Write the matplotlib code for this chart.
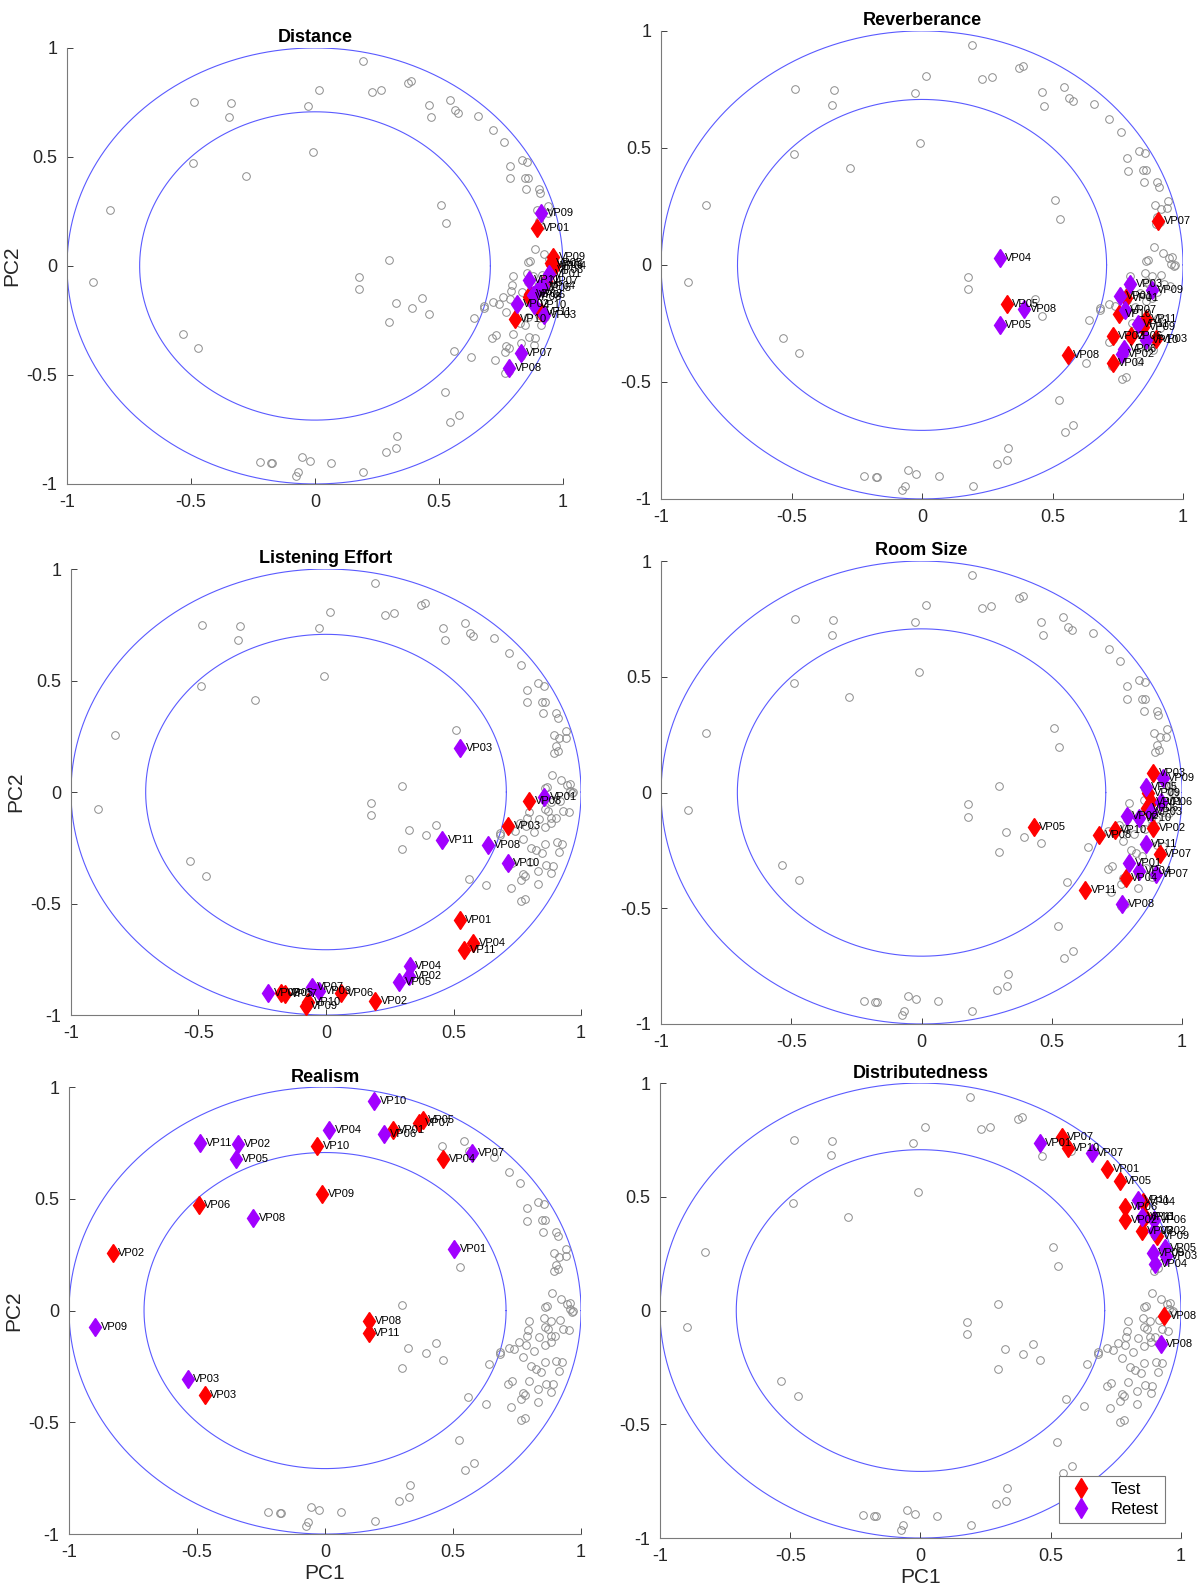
import numpy as np
import matplotlib.pyplot as plt

plt.rcParams['font.family'] = ['Liberation Sans', 'DejaVu Sans']

# background variable loadings (same in every panel)
bg_x = [0.192, 0.373, 0.388, 0.016, 0.231, 0.268, -0.486, -0.339, -0.345, -0.027, 0.544, 0.458,
        0.563, 0.578, 0.467, 0.659,
        0.718, 0.763, 0.833, 0.856, 0.787, 0.788, 0.846, 0.859, 0.852, 0.902, 0.909, 0.941,
        0.894, 0.914, 0.940, 0.902, 0.895, 0.911,
        -0.008, -0.490, -0.277, -0.827, 0.509, 0.527, 0.299, -0.895, 0.177, 0.177, 0.325, 0.393,
        0.432, 0.460, 0.299, 0.640, 0.682, -0.534, -0.470, 0.560, 0.629,
        0.524, 0.546, 0.580, 0.331, 0.327, 0.288, -0.222, -0.177, -0.172, -0.053, -0.022, 0.064,
        -0.067, -0.076, 0.194,
        0.887, 0.922, 0.958, 0.866, 0.858, 0.955, 0.964, 0.855, 0.881, 0.797, 0.917, 0.858,
        0.871, 0.928, 0.794, 0.951, 0.836, 0.881, 0.900, 0.789, 0.759, 0.785, 0.858, 0.883,
        0.717, 0.740, 0.817, 0.683, 0.772, 0.904, 0.927, 0.858, 0.804, 0.825, 0.845, 0.913,
        0.862, 0.889, 0.798, 0.715, 0.730, 0.832, 0.884, 0.772, 0.782, 0.766, 0.830, 0.727,
        0.781, 0.766, 0.945, 0.970]
bg_y = [0.938, 0.840, 0.849, 0.808, 0.796, 0.805, 0.751, 0.746, 0.682, 0.735, 0.759, 0.737,
        0.714, 0.701, 0.681, 0.689,
        0.622, 0.570, 0.487, 0.477, 0.459, 0.402, 0.405, 0.405, 0.353, 0.353, 0.333, 0.275,
        0.256, 0.241, 0.242, 0.206, 0.176, 0.185,
        0.522, 0.474, 0.413, 0.256, 0.278, 0.195, 0.027, -0.074, -0.051, -0.104, -0.169, -0.192,
        -0.147, -0.219, -0.257, -0.237, -0.184, -0.311, -0.377, -0.388, -0.418,
        -0.578, -0.714, -0.683, -0.782, -0.835, -0.852, -0.900, -0.905, -0.905, -0.878, -0.894,
        -0.902, -0.944, -0.963, -0.943,
        0.078, 0.053, 0.034, 0.021, 0.017, 0.005, -0.005, -0.034, -0.046, -0.046, -0.042, -0.074,
        -0.083, -0.083, -0.089, -0.089, -0.119, -0.115, -0.115, -0.115, -0.141, -0.152, -0.156,
        -0.140, -0.166, -0.174, -0.181, -0.193, -0.210, -0.225, -0.232, -0.232, -0.250, -0.262,
        -0.273, -0.270, -0.327, -0.330, -0.313, -0.330, -0.317, -0.352, -0.364, -0.368, -0.376,
        -0.396, -0.411, -0.430, -0.481, -0.489, 0.030, 0.000]

# (participant, PC1, PC2) for test and retest sessions
distance_test = [('VP01', 0.895, 0.175), ('VP09', 0.960, 0.043), ('VP05', 0.950, 0.015),
                 ('VP06', 0.955, 0.005), ('VP04', 0.965, 0.000), ('VP03', 0.955, -0.020),
                 ('VP07', 0.932, -0.069), ('VP02', 0.868, -0.130), ('VP08', 0.863, -0.144),
                 ('VP11', 0.910, -0.213), ('VP10', 0.805, -0.244)]
distance_retest = [('VP09', 0.912, 0.242), ('VP01', 0.944, -0.038), ('VP11', 0.861, -0.066),
                   ('VP04', 0.920, -0.090), ('VP05', 0.903, -0.100), ('VP06', 0.881, -0.132),
                   ('VP02', 0.816, -0.173), ('VP10', 0.884, -0.178), ('VP03', 0.925, -0.225),
                   ('VP07', 0.830, -0.401), ('VP08', 0.784, -0.467)]

reverb_test = [('VP07', 0.906, 0.187), ('VP05', 0.325, -0.167), ('VP08', 0.558, -0.386),
               ('VP04', 0.730, -0.420), ('VP01', 0.782, -0.142), ('VP10', 0.756, -0.208),
               ('VP11', 0.857, -0.229), ('VP09', 0.847, -0.265), ('VP02', 0.730, -0.304),
               ('VP06', 0.799, -0.304), ('VP03', 0.895, -0.316)]
reverb_retest = [('VP04', 0.297, 0.028), ('VP08', 0.392, -0.190), ('VP05', 0.297, -0.255),
                 ('VP03', 0.797, -0.080), ('VP09', 0.880, -0.106), ('VP01', 0.759, -0.131),
                 ('VP07', 0.776, -0.193), ('VP11', 0.827, -0.254), ('VP10', 0.860, -0.320),
                 ('VP06', 0.775, -0.359), ('VP02', 0.768, -0.381)]

effort_test = [('VP08', 0.796, -0.038), ('VP03', 0.715, -0.154), ('VP01', 0.524, -0.574),
               ('VP04', 0.577, -0.679), ('VP11', 0.543, -0.710), ('VP02', 0.193, -0.939),
               ('VP06', 0.059, -0.899), ('VP05', -0.175, -0.902), ('VP07', -0.160, -0.905),
               ('VP10', -0.071, -0.940), ('VP09', -0.079, -0.961)]
effort_retest = [('VP03', 0.527, 0.196), ('VP01', 0.855, -0.020), ('VP11', 0.455, -0.217),
                 ('VP08', 0.635, -0.236), ('VP10', 0.712, -0.318), ('VP04', 0.328, -0.780),
                 ('VP02', 0.325, -0.827), ('VP05', 0.286, -0.850), ('VP09', -0.026, -0.892),
                 ('VP07', -0.056, -0.873), ('VP06', -0.226, -0.899)]

room_test = [('VP03', 0.889, 0.083), ('VP09', 0.870, 0.000), ('VP01', 0.879, -0.040),
             ('VP06', 0.864, -0.069), ('VP02', 0.889, -0.155), ('VP05', 0.431, -0.148),
             ('VP10', 0.742, -0.162), ('VP08', 0.683, -0.185), ('VP07', 0.914, -0.264),
             ('VP04', 0.783, -0.369), ('VP11', 0.628, -0.422)]
room_retest = [('VP09', 0.925, 0.061), ('VP05', 0.861, 0.022), ('VP06', 0.918, -0.040),
               ('VP03', 0.879, -0.083), ('VP02', 0.788, -0.102), ('VP10', 0.835, -0.112),
               ('VP11', 0.861, -0.223), ('VP01', 0.797, -0.304), ('VP04', 0.835, -0.339),
               ('VP07', 0.900, -0.350), ('VP08', 0.770, -0.483)]

realism_test = [('VP05', 0.382, 0.854), ('VP07', 0.367, 0.840), ('VP01', 0.264, 0.807),
                ('VP10', -0.031, 0.735), ('VP04', 0.462, 0.679), ('VP09', -0.011, 0.522),
                ('VP06', -0.493, 0.473), ('VP02', -0.829, 0.257), ('VP08', 0.173, -0.045),
                ('VP11', 0.171, -0.100), ('VP03', -0.470, -0.378)]
realism_retest = [('VP10', 0.191, 0.936), ('VP06', 0.230, 0.788), ('VP04', 0.016, 0.807),
                  ('VP11', -0.487, 0.749), ('VP02', -0.339, 0.746), ('VP05', -0.346, 0.680),
                  ('VP07', 0.575, 0.704), ('VP08', -0.280, 0.414), ('VP01', 0.505, 0.277),
                  ('VP09', -0.897, -0.074), ('VP03', -0.536, -0.307)]

distrib_test = [('VP07', 0.542, 0.761), ('VP10', 0.565, 0.715), ('VP01', 0.717, 0.622),
                ('VP05', 0.764, 0.570), ('VP04', 0.855, 0.477), ('VP06', 0.786, 0.457),
                ('VP11', 0.860, 0.410), ('VP02', 0.786, 0.400), ('VP03', 0.849, 0.349),
                ('VP09', 0.909, 0.329), ('VP08', 0.935, -0.025)]
distrib_retest = [('VP01', 0.457, 0.738), ('VP07', 0.658, 0.692), ('VP11', 0.835, 0.488),
                  ('VP10', 0.849, 0.411), ('VP06', 0.897, 0.400), ('VP02', 0.897, 0.349),
                  ('VP05', 0.938, 0.277), ('VP09', 0.892, 0.254), ('VP03', 0.941, 0.241),
                  ('VP04', 0.900, 0.203), ('VP08', 0.922, -0.149)]

panels = [
    ('Distance', distance_test, distance_retest, [0.0557, 0.6962, 0.4123, 0.2737]),
    ('Reverberance', reverb_test, reverb_retest, [0.5495, 0.6868, 0.4339, 0.2938]),
    ('Listening Effort', effort_test, effort_retest, [0.0590, 0.3628, 0.4240, 0.2800]),
    ('Room Size', room_test, room_retest, [0.5495, 0.3572, 0.4331, 0.2906]),
    ('Realism', realism_test, realism_retest, [0.0574, 0.0370, 0.4256, 0.2806]),
    ('Distributedness', distrib_test, distrib_retest, [0.5486, 0.0345, 0.4331, 0.2856]),
]

test_col = '#FF0000'
retest_col = '#A100FF'
circ_col = '#5a5aff'
axis_col = '#404040'

bg_x = np.array(bg_x)
bg_y = np.array(bg_y)
# a few background loadings are not shown in the Realism panel
realism_hidden = ((bg_x < 0) & (bg_y > -0.6)) | ((bg_x < 0.42) & (bg_y > 0.3))

theta = np.linspace(0, 2 * np.pi, 400)

fig = plt.figure(figsize=(12.03, 15.93), dpi=100)

for i, (title, test, retest, rect) in enumerate(panels):
    ax = fig.add_axes(rect)
    ax.plot(np.cos(theta), np.sin(theta), color=circ_col, lw=0.8, zorder=1)
    r = np.sqrt(0.5)
    ax.plot(r * np.cos(theta), r * np.sin(theta), color=circ_col, lw=0.8, zorder=1)

    keep = ~realism_hidden if title == 'Realism' else np.ones(len(bg_x), bool)
    ax.plot(bg_x[keep], bg_y[keep], 'o', ms=5.5, mfc='none', mec='#8c8c8c', mew=0.7, zorder=2)

    for pts, col in ((test, test_col), (retest, retest_col)):
        xs = [p[1] for p in pts]
        ys = [p[2] for p in pts]
        ax.plot(xs, ys, 'd', ms=9.5, color=col, mec=col, zorder=3)
    for pts in (test, retest):
        for name, x, y in pts:
            ax.annotate(name, (x, y), xytext=(4, 0), textcoords='offset points',
                        va='center', ha='left', fontsize=8, color='black', zorder=4)

    ax.set_xlim(-1, 1)
    ax.set_ylim(-1, 1)
    ticks = [-1, -0.5, 0, 0.5, 1]
    ticklabels = ['-1', '-0.5', '0', '0.5', '1']
    ax.set_xticks(ticks)
    ax.set_xticklabels(ticklabels)
    ax.set_yticks(ticks)
    ax.set_yticklabels(ticklabels)
    ax.tick_params(direction='in', length=4, width=0.7, colors=axis_col, labelsize=13,
                   labelcolor='#262626', pad=7)
    for s in ('top', 'right'):
        ax.spines[s].set_visible(False)
    for s in ('left', 'bottom'):
        ax.spines[s].set_color('#7a7a7a')
        ax.spines[s].set_linewidth(0.8)
    ax.set_title(title, fontsize=13, fontweight='bold', pad=4)
    if i % 2 == 0:
        ax.set_ylabel('PC2', fontsize=15, color='#262626', labelpad=4)
    if i >= 4:
        ax.set_xlabel('PC1', fontsize=15, color='#262626', labelpad=2)

    if title == 'Distributedness':
        h1, = ax.plot([], [], 'd', ms=10, color=test_col, ls='none')
        h2, = ax.plot([], [], 'd', ms=10, color=retest_col, ls='none')
        leg = ax.legend([h1, h2], ['Test', 'Retest'], loc='lower right',
                        bbox_to_anchor=(0.985, 0.015), fontsize=12, fancybox=False,
                        edgecolor='#7a7a7a', framealpha=1, handletextpad=0.8,
                        borderpad=0.35, labelspacing=0.3)
        leg.get_frame().set_linewidth(0.8)

fig.savefig('out.png', dpi=100)
